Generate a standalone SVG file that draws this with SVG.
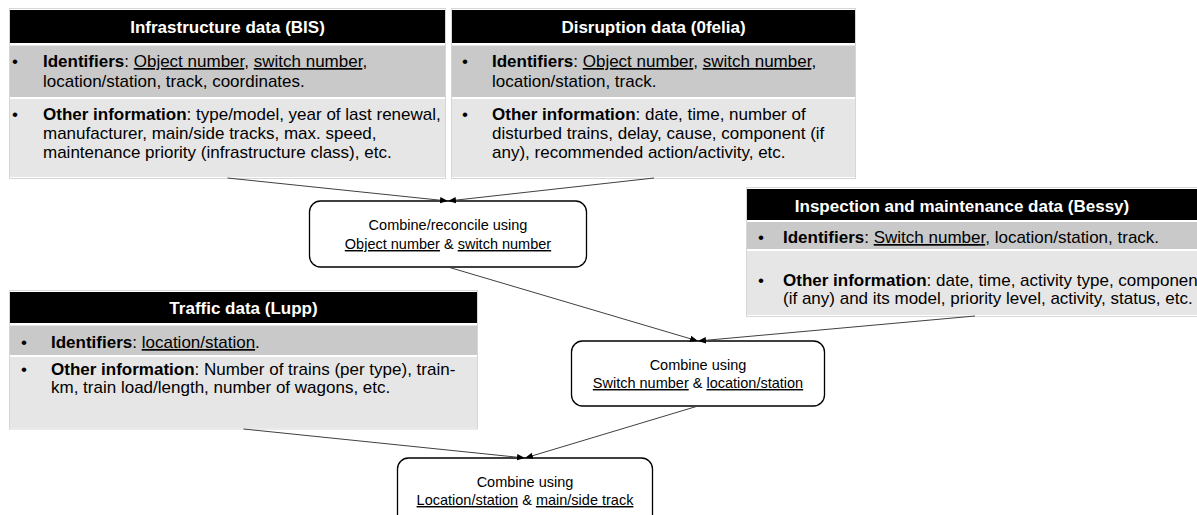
<svg xmlns="http://www.w3.org/2000/svg" width="1197" height="515" viewBox="0 0 1197 515">
<style>
.bg{fill:#fff}
.hdr{fill:#000}
.idr{fill:#c9c9c9}
.oth{fill:#e7e6e6}
.frame{fill:none;stroke:#d6d6d6;stroke-width:1}
.title{font-family:"Liberation Sans",Arial,sans-serif;font-weight:bold;font-size:17px;fill:#fff;text-anchor:middle}
.body{font-family:"Liberation Sans",Arial,sans-serif;font-size:17px;fill:#000}
.b{font-weight:bold}
.u{text-decoration:underline}
.box{fill:#fff;stroke:#000;stroke-width:1.3}
.ct{font-family:"Liberation Sans",Arial,sans-serif;font-size:14.5px;fill:#000;text-anchor:middle}
.conn{stroke:#404040;stroke-width:1;fill:none;marker-end:url(#arr)}
</style>
<defs>
<marker id="arr" viewBox="0 0 10 10" refX="10" refY="5" markerWidth="8" markerHeight="8" markerUnits="userSpaceOnUse" orient="auto">
<path d="M0,1 L10,5 L0,9 z" fill="#000"/>
</marker>
</defs>
<rect class="bg" x="0" y="0" width="1197" height="515"/>

<g id="infrastructure">
<rect class="frame" x="9.5" y="8.5" width="436" height="170"/>
<rect class="hdr" x="10" y="10" width="435" height="33"/>
<rect class="idr" x="10" y="45.5" width="435" height="51.5"/>
<rect class="oth" x="10" y="99" width="435" height="78"/>
<text class="title" x="227.5" y="33">Infrastructure data (BIS)</text>
<text class="body" x="12" y="67">•</text>
<text class="body" x="43" y="67"><tspan class="b">Identifiers</tspan>: <tspan class="u">Object number</tspan>, <tspan class="u">switch number</tspan>,</text>
<text class="body" x="43" y="87">location/station, track, coordinates.</text>
<text class="body" x="12" y="120">•</text>
<text class="body" x="43" y="120"><tspan class="b">Other information</tspan>: type/model, year of last renewal,</text>
<text class="body" x="43" y="139">manufacturer, main/side tracks, max. speed,</text>
<text class="body" x="43" y="158">maintenance priority (infrastructure class), etc.</text>
</g>

<g id="disruption">
<rect class="frame" x="451.5" y="8.5" width="404" height="170"/>
<rect class="hdr" x="452" y="10" width="403" height="33"/>
<rect class="idr" x="452" y="45.5" width="403" height="51.5"/>
<rect class="oth" x="452" y="99" width="403" height="78"/>
<text class="title" x="653.5" y="33">Disruption data (0felia)</text>
<text class="body" x="462" y="67">•</text>
<text class="body" x="492" y="67"><tspan class="b">Identifiers</tspan>: <tspan class="u">Object number</tspan>, <tspan class="u">switch number</tspan>,</text>
<text class="body" x="492" y="87">location/station, track.</text>
<text class="body" x="462" y="120">•</text>
<text class="body" x="492" y="120"><tspan class="b">Other information</tspan>: date, time, number of</text>
<text class="body" x="492" y="139">disturbed trains, delay, cause, component (if</text>
<text class="body" x="492" y="158">any), recommended action/activity, etc.</text>
</g>

<g id="reconcile">
<rect class="box" x="309.5" y="201" width="277" height="66" rx="11"/>
<text class="ct" x="448" y="230">Combine/reconcile using</text>
<text class="ct" x="448" y="249"><tspan class="u">Object number</tspan> &amp; <tspan class="u">switch number</tspan></text>
</g>

<g id="maintenance">
<rect class="frame" x="746.5" y="187.5" width="460" height="129"/>
<rect class="hdr" x="747" y="189" width="460" height="31"/>
<rect class="idr" x="747" y="222" width="460" height="27"/>
<rect class="oth" x="747" y="251" width="460" height="64"/>
<text class="title" x="962" y="212">Inspection and maintenance data (Bessy)</text>
<text class="body" x="758" y="243">•</text>
<text class="body" x="783" y="243"><tspan class="b">Identifiers</tspan>: <tspan class="u">Switch number</tspan>, location/station, track.</text>
<text class="body" x="758" y="286">•</text>
<text class="body" x="783" y="286"><tspan class="b">Other information</tspan>: date, time, activity type, componen</text>
<text class="body" x="783" y="304">(if any) and its model, priority level, activity, status, etc.</text>
</g>

<g id="traffic">
<rect class="frame" x="9.5" y="290.5" width="468" height="138.5"/>
<rect class="hdr" x="10" y="292" width="467" height="31"/>
<rect class="idr" x="10" y="325.5" width="467" height="29.5"/>
<rect class="oth" x="10" y="357" width="467" height="71"/>
<text class="title" x="243.5" y="314">Traffic data (Lupp)</text>
<text class="body" x="21" y="348">•</text>
<text class="body" x="51" y="348"><tspan class="b">Identifiers</tspan>: <tspan class="u">location/station</tspan>.</text>
<text class="body" x="21" y="375">•</text>
<text class="body" x="51" y="375"><tspan class="b">Other information</tspan>: Number of trains (per type), train-</text>
<text class="body" x="51" y="393">km, train load/length, number of wagons, etc.</text>
</g>

<g id="combine-switch">
<rect class="box" x="571.5" y="341" width="253" height="65" rx="11"/>
<text class="ct" x="698" y="370">Combine using</text>
<text class="ct" x="698" y="388"><tspan class="u">Switch number</tspan> &amp; <tspan class="u">location/station</tspan></text>
</g>

<g id="combine-location">
<rect class="box" x="397.5" y="458" width="255" height="70" rx="11"/>
<text class="ct" x="525" y="487">Combine using</text>
<text class="ct" x="525" y="505"><tspan class="u">Location/station</tspan> &amp; <tspan class="u">main/side track</tspan></text>
</g>

<g id="connectors">
<line class="conn" x1="227.5" y1="178" x2="448" y2="201"/>
<line class="conn" x1="654" y1="178" x2="448" y2="201"/>
<line class="conn" x1="448" y1="267" x2="698" y2="341"/>
<line class="conn" x1="975" y1="316" x2="698" y2="341"/>
<line class="conn" x1="243.5" y1="429" x2="525" y2="458"/>
<line class="conn" x1="698" y1="406" x2="525" y2="458"/>
</g>
</svg>
